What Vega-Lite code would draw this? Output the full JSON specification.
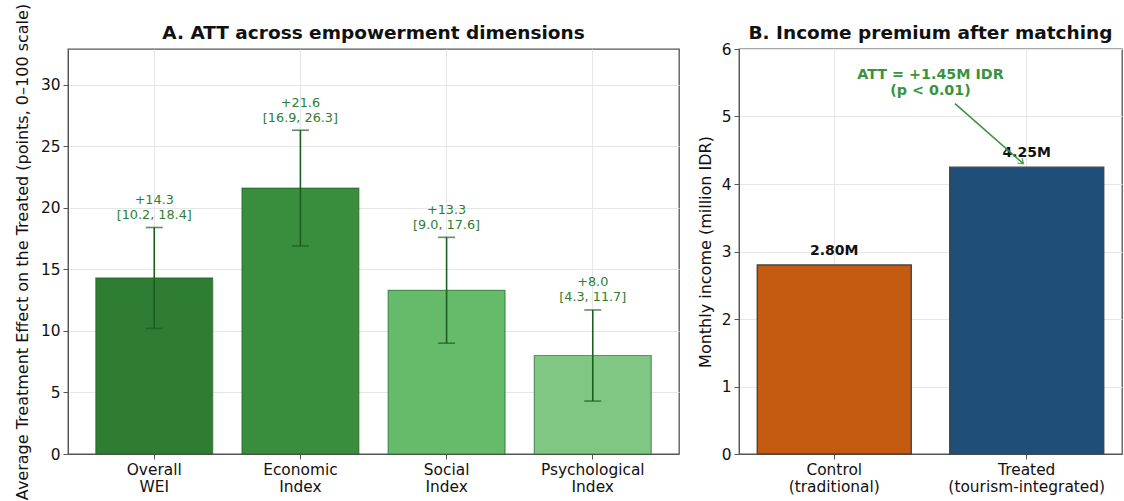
{
  "$schema": "https://vega.github.io/schema/vega-lite/v6.json",
  "background": "white",
  "padding": {"left": 13, "top": 2, "right": 2, "bottom": 0},
  "spacing": 16,
  "resolve": {"scale": {"color": "independent"}},
  "config": {
    "font": "DejaVu Sans",
    "view": {"stroke": "#555555", "strokeWidth": 1.3},
    "axis": {
      "labelFont": "DejaVu Sans", "titleFont": "DejaVu Sans",
      "labelFontSize": 15.4, "titleFontSize": 16, "titleFontWeight": "normal",
      "labelColor": "#111111", "titleColor": "#111111",
      "gridColor": "#e6e6e6", "gridWidth": 1,
      "domainColor": "#555555", "tickColor": "#555555", "tickSize": 5,
      "labelPadding": 3
    },
    "title": {"font": "DejaVu Sans", "fontSize": 18.5, "fontWeight": "bold", "color": "#111111", "offset": 7, "frame": "group"}
  },
  "datasets": {
    "att": [
      {"dimension": "Overall WEI", "att": 14.3, "lo": 10.2, "hi": 18.4, "label": "+14.3\n[10.2, 18.4]"},
      {"dimension": "Economic Index", "att": 21.6, "lo": 16.9, "hi": 26.3, "label": "+21.6\n[16.9, 26.3]"},
      {"dimension": "Social Index", "att": 13.3, "lo": 9.0, "hi": 17.6, "label": "+13.3\n[9.0, 17.6]"},
      {"dimension": "Psychological Index", "att": 8.0, "lo": 4.3, "hi": 11.7, "label": "+8.0\n[4.3, 11.7]"}
    ],
    "income": [
      {"group": "Control (traditional)", "income": 2.80, "label": "2.80M"},
      {"group": "Treated (tourism-integrated)", "income": 4.25, "label": "4.25M"}
    ],
    "note": [
      {"x": 0.5, "y": 5.61, "text": "ATT = +1.45M IDR\n(p < 0.01)"}
    ],
    "arrow": [
      {"x": 0.628, "y": 5.19, "x2": 0.985, "y2": 4.3}
    ]
  },
  "hconcat": [
    {
      "width": 611,
      "height": 405,
      "title": {"text": "A. ATT across empowerment dimensions", "dy": 46},
      "data": {"name": "att"},
      "encoding": {
        "x": {
          "field": "dimension", "type": "nominal", "sort": null,
          "scale": {"paddingInner": 0.2, "paddingOuter": 0.19},
          "axis": {"title": null, "labelAngle": 0, "grid": true, "bandPosition": 0.5,
                   "labelExpr": "split(datum.label, ' ')", "labelLineHeight": 17}
        }
      },
      "layer": [
        {
          "mark": {"type": "bar", "strokeWidth": 1.2, "stroke": "#1b5e20", "strokeOpacity": 0.6},
          "encoding": {
            "y": {"field": "att", "type": "quantitative",
                  "scale": {"domain": [0, 32.9], "nice": false},
                  "axis": {"values": [0, 5, 10, 15, 20, 25, 30], "grid": true, "format": "d",
                           "title": "Average Treatment Effect on the Treated (points, 0\u2013100 scale)", "titlePadding": 10}},
            "color": {"field": "dimension", "type": "nominal", "legend": null,
                      "scale": {"domain": ["Overall WEI", "Economic Index", "Social Index", "Psychological Index"],
                                "range": ["#2e7d32", "#388e3c", "#66bb6a", "#81c784"]}}
          }
        },
        {
          "mark": {"type": "rule", "color": "#1b5e20", "strokeWidth": 1.6},
          "encoding": {
            "y": {"field": "lo", "type": "quantitative"},
            "y2": {"field": "hi"}
          }
        },
        {
          "mark": {"type": "tick", "color": "#1b5e20", "thickness": 1.6, "size": 17, "orient": "horizontal"},
          "encoding": {"y": {"field": "lo", "type": "quantitative"}}
        },
        {
          "mark": {"type": "tick", "color": "#1b5e20", "thickness": 1.6, "size": 17, "orient": "horizontal"},
          "encoding": {"y": {"field": "hi", "type": "quantitative"}}
        },
        {
          "mark": {"type": "text", "baseline": "bottom", "dy": -20.5, "fontSize": 12.8, "color": "#2e7d32", "lineBreak": "\n", "lineHeight": 15},
          "encoding": {
            "y": {"field": "hi", "type": "quantitative"},
            "text": {"field": "label"}
          }
        }
      ]
    },
    {
      "width": 383,
      "height": 405,
      "title": {"text": "B. Income premium after matching", "dy": 7},
      "resolve": {"scale": {"x": "independent"}, "axis": {"x": "independent"}},
      "layer": [
        {
          "data": {"name": "income"},
          "encoding": {
            "x": {"field": "group", "type": "nominal", "sort": null,
                  "scale": {"paddingInner": 0.2, "paddingOuter": 0.095},
                  "axis": {"title": null, "labelAngle": 0, "grid": true, "bandPosition": 0.5,
                           "labelExpr": "split(datum.label, ' ')", "labelLineHeight": 17}},
            "y": {"field": "income", "type": "quantitative",
                  "scale": {"domain": [0, 6], "nice": false},
                  "axis": {"values": [0, 1, 2, 3, 4, 5, 6], "grid": true, "format": "d",
                           "title": "Monthly income (million IDR)", "titlePadding": 8}}
          },
          "layer": [
            {
              "mark": {"type": "bar", "stroke": "#444444", "strokeWidth": 1.4},
              "encoding": {
                "color": {"field": "group", "type": "nominal", "legend": null,
                          "scale": {"domain": ["Control (traditional)", "Treated (tourism-integrated)"],
                                    "range": ["#c55a11", "#1f4e79"]}}
              }
            },
            {
              "mark": {"type": "text", "baseline": "bottom", "dy": -7, "fontSize": 14, "fontWeight": "bold", "color": "#111111"},
              "encoding": {"text": {"field": "label"}}
            }
          ]
        },
        {
          "layer": [
            {
              "data": {"name": "arrow"},
              "mark": {"type": "rule", "color": "#3a923d", "strokeWidth": 1.6},
              "encoding": {
                "x": {"field": "x", "type": "quantitative", "scale": {"domain": [-0.5, 1.5], "nice": false, "zero": false}, "axis": null},
                "y": {"field": "y", "type": "quantitative"},
                "x2": {"field": "x2"},
                "y2": {"field": "y2"}
              }
            },
            {
              "data": {"name": "arrow"},
              "mark": {"type": "point", "shape": "M -0.75 1 L 0 0 L 0.75 1", "filled": false, "color": "#3a923d", "strokeWidth": 1.6, "size": 90, "angle": 131},
              "encoding": {
                "x": {"field": "x2", "type": "quantitative", "axis": null},
                "y": {"field": "y2", "type": "quantitative"}
              }
            },
            {
              "data": {"name": "note"},
              "mark": {"type": "text", "fontSize": 14.3, "fontWeight": "bold", "color": "#3a923d", "lineBreak": "\n", "lineHeight": 16, "baseline": "middle"},
              "encoding": {
                "x": {"field": "x", "type": "quantitative", "axis": null},
                "y": {"field": "y", "type": "quantitative"},
                "text": {"field": "text"}
              }
            }
          ]
        }
      ]
    }
  ]
}
